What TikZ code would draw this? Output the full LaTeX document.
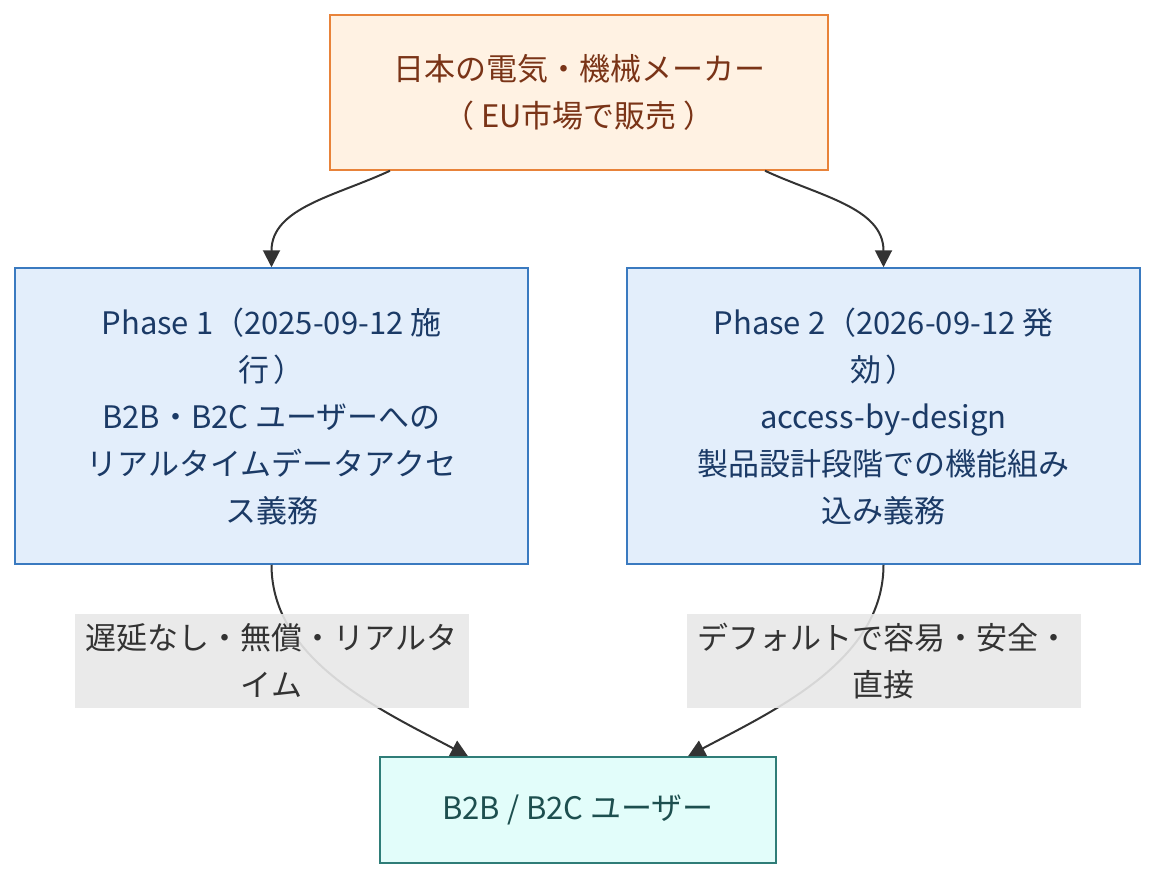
\documentclass[tikz,border=0pt]{standalone}
\usepackage{fontspec}
\newfontfamily\cjk{Noto Sans CJK JP}
\usetikzlibrary{arrows.meta,positioning}
\definecolor{makerfill}{HTML}{FFF2E3}
\definecolor{makerline}{HTML}{E8833A}
\definecolor{makertext}{HTML}{7A3417}
\definecolor{phasefill}{HTML}{E3EEFB}
\definecolor{phaseline}{HTML}{3A7AC0}
\definecolor{phasetext}{HTML}{1B3A66}
\definecolor{userfill}{HTML}{E2FDFA}
\definecolor{userline}{HTML}{2F7D78}
\definecolor{usertext}{HTML}{1D4F4F}
\definecolor{lblfill}{HTML}{E8E8E8}
\definecolor{edgecol}{HTML}{333333}
\tikzset{
    box/.style={draw, line width=1.5pt, align=center, inner sep=0pt,
        font=\cjk\fontsize{31}{47}\selectfont},
    maker/.style={box, fill=makerfill, draw=makerline, text=makertext,
        minimum width=498pt, minimum height=155pt},
    phase/.style={box, fill=phasefill, draw=phaseline, text=phasetext,
        minimum width=513pt, minimum height=296pt},
    users/.style={box, fill=userfill, draw=userline, text=usertext,
        minimum width=396pt, minimum height=106pt},
    lbl/.style={fill=lblfill, fill opacity=0.9, text opacity=1, text=edgecol,
        align=center, inner sep=0pt, minimum width=394pt, minimum height=94pt,
        font=\cjk\fontsize{31}{47}\selectfont},
    edge/.style={draw=edgecol, line width=2pt,
        -{Triangle[length=17pt,width=17pt]}},
}
\begin{document}
\begin{tikzpicture}[x=1pt,y=-1pt]
    \useasboundingbox (0,0) rectangle (1172,892);
    % nodes
    \node[maker] (maker) at (579,92.5) {日本の電気・機械メーカー\\（\hspace{7pt}EU市場で販売\hspace{7pt}）};
    \node[phase] (p1) at (271.5,416) {Phase 1（2025-09-12 施\\行\hspace{4pt}）\\B2B・B2C ユーザーへの\\リアルタイムデータアクセ\\ス義務};
    \node[phase] (p2) at (883.5,416) {Phase 2（2026-09-12 発\\効\hspace{4pt}）\\access-by-design\\製品設計段階での機能組み\\込み義務};
    \node[users] (users) at (578,810) {B2B / B2C ユーザー};
    % connectors
    \draw[edge] ([xshift=-189pt]maker.south) to[out=-155,in=90] (p1.north);
    \draw[edge] ([xshift=186pt]maker.south) to[out=-25,in=90] (p2.north);
    \draw[edge] (p1.south) to[out=-90,in=152,looseness=0.9] ([xshift=-110pt]users.north);
    \draw[edge] (p2.south) to[out=-90,in=28,looseness=0.9] ([xshift=110pt]users.north);
    % edge labels
    \node[lbl, below=49pt of p1] (l1) {遅延なし・無償・リアルタ\\イム};
    \node[lbl, below=49pt of p2] (l2) {デフォルトで容易・安全・\\直接};
\end{tikzpicture}
\end{document}
